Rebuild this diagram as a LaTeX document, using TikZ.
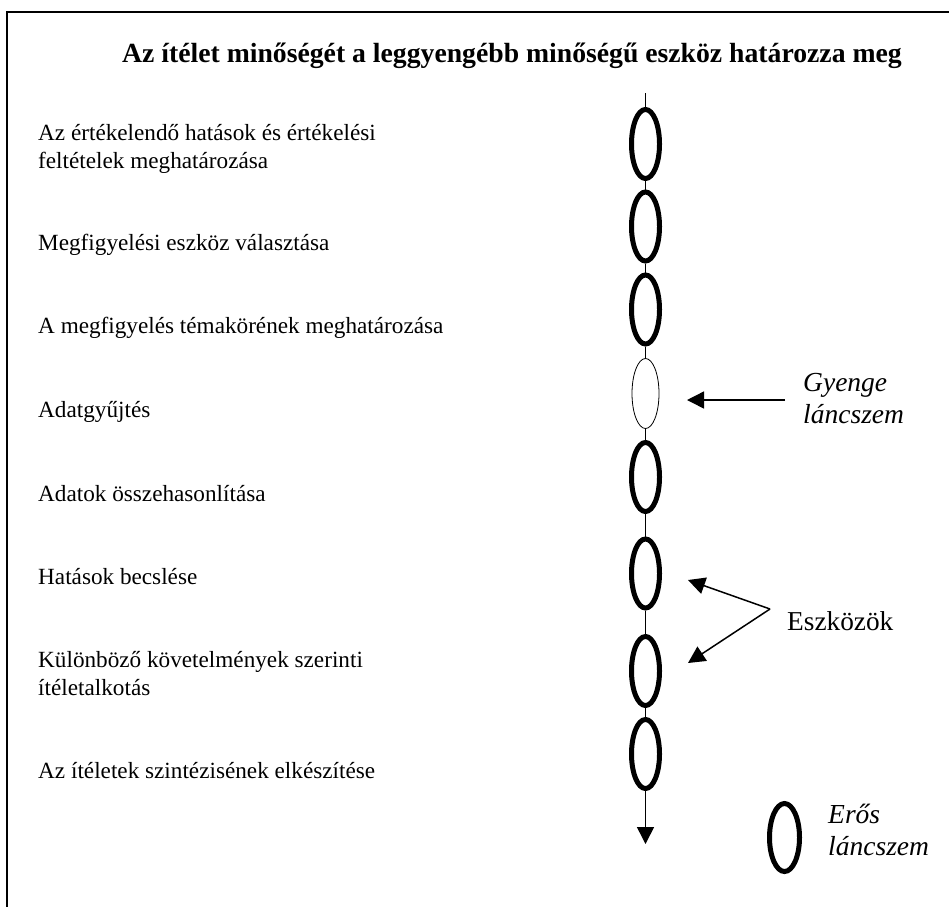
\documentclass[tikz,border=0pt]{standalone}
\usepackage{fontspec}
\setmainfont{Liberation Serif}
\usetikzlibrary{shapes.geometric,arrows.meta}
\begin{document}
\begin{tikzpicture}[x=1pt,y=-1pt,
  strong/.style={ellipse,draw,line width=5pt,fill=white,minimum width=28pt,minimum height=69pt,inner sep=0pt},
  weak/.style={ellipse,draw,line width=0.8pt,fill=white,minimum width=27pt,minimum height=70pt,inner sep=0pt},
  item/.style={anchor=base west,inner sep=0pt,align=left,font=\fontsize{23.2}{28}\selectfont},
  note/.style={anchor=base west,inner sep=0pt,align=left,font=\fontsize{27.5}{31.5}\selectfont\itshape},
  link/.style={line width=1.5pt},
  pointer/.style={line width=1.5pt,-{Triangle[length=17pt,width=17pt]}}]
\useasboundingbox (0,0) rectangle (949,906);
\draw[line width=2pt] (7,910) -- (7,12) -- (952,12);
\node[anchor=base west,inner sep=0pt,font=\fontsize{27.7}{32}\selectfont\bfseries] (title) at (122,62)
  {Az ítélet minőségét a leggyengébb minőségű eszköz határozza meg};
% items (anchor = baseline of last line)
\node[item] (t1) at (38,168) {Az értékelendő hatások és értékelési\\feltételek meghatározása};
\node[item] (t2) at (38,250) {Megfigyelési eszköz választása};
\node[item] (t3) at (38,333) {A megfigyelés témakörének meghatározása};
\node[item] (t4) at (38,417) {Adatgyűjtés};
\node[item] (t5) at (38,501) {Adatok összehasonlítása};
\node[item] (t6) at (38,584) {Hatások becslése};
\node[item] (t7) at (38,695) {Különböző követelmények szerinti\\ítéletalkotás};
\node[item] (t8) at (38,778) {Az ítéletek szintézisének elkészítése};
% chain
\node[strong] (e1) at (645.5,144) {};
\node[strong] (e2) at (645.5,226.5) {};
\node[strong] (e3) at (645.5,309.5) {};
\node[weak]   (e4) at (645.5,393.5) {};
\node[strong] (e5) at (645.5,477) {};
\node[strong] (e6) at (645.5,573.5) {};
\node[strong] (e7) at (645.5,671) {};
\node[strong] (e8) at (645.5,754) {};
\coordinate (top) at (645.5,93);
\coordinate (bot) at (645.5,844);
\draw[link] (top) -- (e1.north);
\draw[link] (e1.south) -- (e2.north);
\draw[link] (e2.south) -- (e3.north);
\draw[link] (e3.south) -- (e4.north);
\draw[link] (e4.south) -- (e5.north);
\draw[link] (e5.south) -- (e6.north);
\draw[link] (e6.south) -- (e7.north);
\draw[link] (e7.south) -- (e8.north);
\draw[pointer] (e8.south) -- (bot);
% weak link label
\node[note] (gy) at (803,423) {Gyenge\\láncszem};
\coordinate (gyfrom) at (785,400);
\coordinate (gyto) at (687,400);
\draw[pointer] (gyfrom) -- (gyto);
% tools label
\node[anchor=base west,inner sep=0pt,font=\fontsize{27.3}{31}\selectfont] (esz) at (787,630) {Eszközök};
\coordinate (ezfrom) at (770,609);
\coordinate (ez1) at (688,580);
\coordinate (ez2) at (688,663);
\draw[pointer] (ezfrom) -- (ez1);
\draw[pointer] (ezfrom) -- (ez2);
% legend
\node[strong,minimum width=30pt,minimum height=68pt] (leg) at (784.5,837.5) {};
\node[note] (er) at (828,855) {Erős\\láncszem};
\end{tikzpicture}
\end{document}
